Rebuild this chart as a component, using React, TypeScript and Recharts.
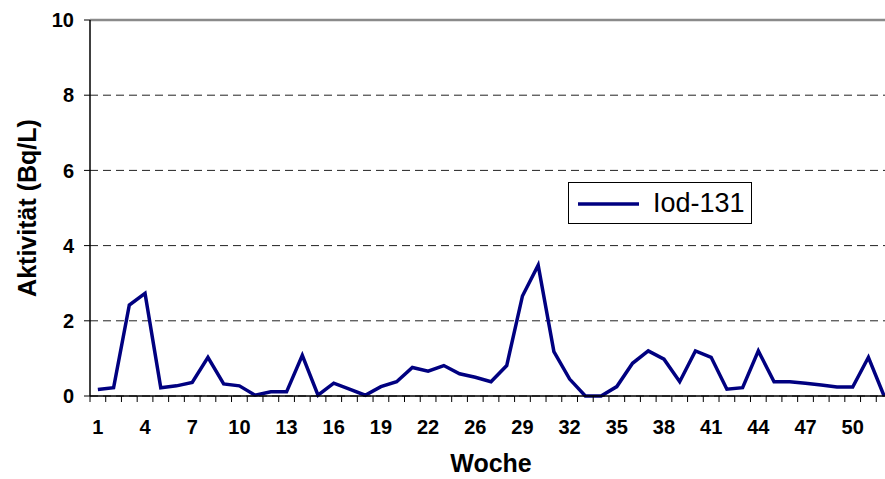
import React from "react";
import {
  ComposedChart,
  Line,
  XAxis,
  YAxis,
  CartesianGrid,
  Legend,
  ReferenceLine,
  Label,
} from "recharts";

const weeks: string[] = [
  "1", "2", "3", "4", "5", "6", "7", "8", "9", "10",
  "11", "12", "13", "14", "15", "16", "17", "18", "19", "20",
  "21", "22", "23", "25", "26", "27", "28", "29", "30", "31",
  "32", "33", "34", "35", "36", "37", "38", "39", "40", "41",
  "42", "43", "44", "45", "46", "47", "48", "49", "50", "51", "52",
];

const iod131: number[] = [
  0.17, 0.22, 2.42, 2.73, 0.22, 0.27, 0.36, 1.03, 0.32, 0.27,
  0.02, 0.11, 0.11, 1.08, 0.02, 0.34, 0.18, 0.02, 0.25, 0.38,
  0.76, 0.66, 0.81, 0.59, 0.5, 0.38, 0.81, 2.66, 3.48, 1.18,
  0.45, 0.0, 0.0, 0.25, 0.87, 1.2, 0.98, 0.38, 1.2, 1.03,
  0.18, 0.22, 1.2, 0.38, 0.38, 0.34, 0.29, 0.24, 0.24, 1.03, 0.0,
];

const yTicks: number[] = [0, 2, 4, 6, 8, 10];

const data = weeks.map((w, i) => ({ week: w, value: iod131[i] }));

const CHART_W = 900;
const CHART_H = 479;
const MARGIN = { top: 20, right: 8, left: 0, bottom: 0 };
const Y_AXIS_W = 90;
const X_AXIS_H = 83;
const PLOT_W = CHART_W - MARGIN.left - MARGIN.right - Y_AXIS_W;
const STEP = PLOT_W / weeks.length;
const FONT = "'Liberation Sans', Arial, sans-serif";

const XTick = (props: any) => {
  const { x, y, index, payload } = props;
  const bx = x - STEP / 2;
  return (
    <g>
      <line x1={bx} y1={y} x2={bx} y2={y + 6} stroke="#000" strokeWidth={1} />
      {index % 3 === 0 ? (
        <text
          x={x}
          y={y + 38}
          textAnchor="middle"
          fontFamily={FONT}
          fontWeight="bold"
          fontSize={20}
          fill="#000"
        >
          {payload.value}
        </text>
      ) : null}
    </g>
  );
};

const LegendBox = () => (
  <div
    style={{
      width: 184,
      height: 42,
      border: "1px solid #000",
      background: "#fff",
      boxSizing: "border-box",
      display: "flex",
      alignItems: "center",
      fontFamily: FONT,
    }}
  >
    <svg width={80} height={40} style={{ display: "block" }}>
      <line x1={9} y1={21} x2={70} y2={21} stroke="#000080" strokeWidth={3.5} />
    </svg>
    <span style={{ fontSize: 27, color: "#000", marginLeft: 4, lineHeight: "40px" }}>
      Iod-131
    </span>
  </div>
);

export default function App() {
  return (
    <div
      style={{
        position: "fixed",
        left: 0,
        top: 0,
        width: 885,
        height: 479,
        overflow: "hidden",
        background: "#fff",
      }}
    >
      <ComposedChart width={CHART_W} height={CHART_H} data={data} margin={MARGIN}>
        <CartesianGrid
          vertical={false}
          stroke="#222"
          strokeDasharray="8 5"
        />
        <ReferenceLine y={10} stroke="#8a8a8a" strokeWidth={2.5} ifOverflow="extendDomain" />
        <XAxis
          dataKey="week"
          scale="band"
          interval={0}
          tickSize={0}
          tickMargin={0}
          tickLine={false}
          axisLine={{ stroke: "#000", strokeWidth: 1.5 }}
          tick={<XTick />}
          height={X_AXIS_H}
        >
          <Label
            content={(p: any) => {
              const vb = p.viewBox;
              return (
                <text
                  x={vb.x + vb.width / 2}
                  y={472}
                  textAnchor="middle"
                  fontFamily={FONT}
                  fontWeight="bold"
                  fontSize={25}
                  fill="#000"
                >
                  Woche
                </text>
              );
            }}
          />
        </XAxis>
        <YAxis
          domain={[0, 10]}
          ticks={yTicks}
          width={Y_AXIS_W}
          tickSize={6}
          tickMargin={10}
          axisLine={{ stroke: "#000", strokeWidth: 1.5 }}
          tickLine={{ stroke: "#000" }}
          tick={{ fontFamily: FONT, fontWeight: "bold", fontSize: 20, fill: "#000" }}
        >
          <Label
            content={(p: any) => {
              const vb = p.viewBox;
              const cx = 27;
              const cy = vb.y + vb.height / 2;
              return (
                <text
                  x={cx}
                  y={cy}
                  transform={`rotate(-90 ${cx} ${cy})`}
                  textAnchor="middle"
                  dominantBaseline="central"
                  fontFamily={FONT}
                  fontWeight="bold"
                  fontSize={25}
                  fill="#000"
                >
                  Aktivität (Bq/L)
                </text>
              );
            }}
          />
        </YAxis>
        <Legend
          layout="vertical"
          align="center"
          verticalAlign="middle"
          content={<LegendBox />}
          wrapperStyle={{ left: 568, top: 182, width: 184, height: 42 }}
        />
        <Line
          type="linear"
          dataKey="value"
          stroke="#000080"
          strokeWidth={3.5}
          dot={false}
          isAnimationActive={false}
          name="Iod-131"
        />
      </ComposedChart>
    </div>
  );
}
